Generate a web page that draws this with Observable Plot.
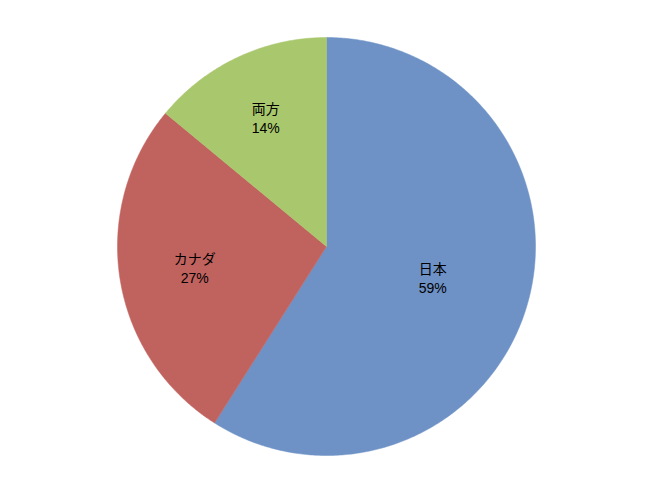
<!DOCTYPE html>
<html>
<head>
<meta charset="utf-8">
<script src="https://cdn.jsdelivr.net/npm/d3@7"></script>
<script src="https://cdn.jsdelivr.net/npm/@observablehq/plot@0.6"></script>
<style>
  html, body { margin: 0; padding: 0; background: #fff; }
</style>
</head>
<body>
<div id="chart"></div>
<script>
// Data
const categories = ["日本", "カナダ", "両方"];
const values = [59, 27, 14];
const colors = ["#6E92C6", "#C0635F", "#A9C76C"];

// Layout
const W = 648, H = 487;
const cx = 326, cy = 246, R = 209;

const total = d3.sum(values);
const pie = d3.pie().sort(null).value(d => d.value)(
  categories.map((c, i) => ({category: c, value: values[i]}))
);

// Slice outlines in data space (unit circle), angle clockwise from 12 o'clock
const outline = [];
for (const s of pie) {
  const c = s.data.category;
  outline.push({category: c, x: 0, y: 0});
  const n = Math.max(2, Math.ceil((s.endAngle - s.startAngle) / 0.01));
  for (let k = 0; k <= n; k++) {
    const a = s.startAngle + (s.endAngle - s.startAngle) * k / n;
    outline.push({category: c, x: Math.sin(a), y: Math.cos(a)});
  }
  outline.push({category: c, x: 0, y: 0});
}

// Labels: placed along the slice's mid-angle ("best fit" style radius)
const labels = pie.map(s => {
  const a = (s.startAngle + s.endAngle) / 2;
  const f = s.data.value / total;
  const r = 0.73 - 0.34 * f;
  return {
    category: s.data.category,
    x: r * Math.sin(a),
    y: r * Math.cos(a),
    text: `${s.data.category}\n${Math.round(f * 100)}%`
  };
});

const chart = Plot.plot({
  width: W,
  height: H,
  margin: 0,
  x: {domain: [-1, 1], range: [cx - R, cx + R], axis: null},
  y: {domain: [-1, 1], range: [cy + R, cy - R], axis: null},
  color: {domain: categories, range: colors},
  style: {background: "#fff"},
  marks: [
    Plot.line(outline, {x: "x", y: "y", z: "category", fill: "category", stroke: "category", strokeWidth: 0.5, curve: "linear-closed"}),
    Plot.text(labels, {
      x: "x", y: "y", text: "text",
      fontSize: 14, lineHeight: 1.36,
      fill: "#000",
      fontFamily: "'Liberation Sans', Arial, 'Noto Sans CJK JP', sans-serif"
    })
  ]
});
document.getElementById("chart").appendChild(chart);
</script>
</body>
</html>
